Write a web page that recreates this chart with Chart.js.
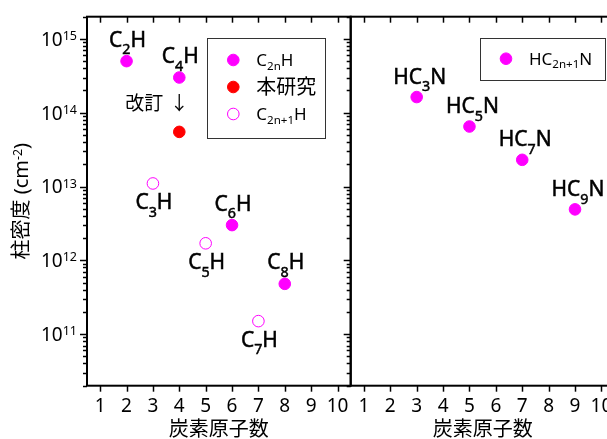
<!DOCTYPE html>
<html>
<head>
<meta charset="utf-8">
<script src="https://cdn.jsdelivr.net/npm/chart.js@4"></script>
<style>
  html, body { margin: 0; padding: 0; background: #fff; overflow: hidden; width: 607px; height: 439px; }
  body { position: relative; }
  canvas { position: absolute; top: 0; }
  #leftChart { left: 0; }
  #rightChart { left: 340px; }
</style>
</head>
<body>
<canvas id="leftChart" width="360" height="439"></canvas>
<canvas id="rightChart" width="300" height="439"></canvas>
<script>
// ---- data ----
const xTicks = [1, 2, 3, 4, 5, 6, 7, 8, 9, 10];
const yTicks = [1e11, 1e12, 1e13, 1e14, 1e15];
const yTickLabels = ['10^{11}', '10^{12}', '10^{13}', '10^{14}', '10^{15}'];

const c2nhX = [2, 4, 6, 8];
const c2nhY = [5.0e14, 3.0e14, 3.0e12, 4.8e11];
const c2nhNames = ['C_{2}H', 'C_{4}H', 'C_{6}H', 'C_{8}H'];

const thisWorkX = [4];
const thisWorkY = [5.5e13];
const thisWorkNote = ['改訂', '↓'];

const c2n1hX = [3, 5, 7];
const c2n1hY = [1.1e13, 1.7e12, 1.5e11];
const c2n1hNames = ['C_{3}H', 'C_{5}H', 'C_{7}H'];

const hcnX = [3, 5, 7, 9];
const hcnY = [1.63e14, 6.5e13, 2.3e13, 4.9e12];
const hcnNames = ['HC_{3}N', 'HC_{5}N', 'HC_{7}N', 'HC_{9}N'];

const xTitle = '炭素原子数';
const yTitle = '柱密度 (cm^{-2})';

const FONT = "'Noto Sans', 'Noto Sans CJK JP', sans-serif";
const MAGENTA = '#ff00ff';
const RED = '#ff0000';

const toPoints = (xs, ys) => xs.map((x, i) => ({ x: x, y: ys[i] }));

// split "C_{2}H" / "10^{15}" into normal, sub and sup pieces
function richParts(str) {
    const parts = [];
    const re = /([_^])\{([^}]*)\}/g;
    let last = 0, m;
    while ((m = re.exec(str))) {
        if (m.index > last) parts.push({ t: str.slice(last, m.index), mode: 0 });
        parts.push({ t: m[2], mode: m[1] === '_' ? 1 : 2 });
        last = re.lastIndex;
    }
    if (last < str.length) parts.push({ t: str.slice(last), mode: 0 });
    return parts;
}

// y is the vertical middle of the capital letters
function drawRich(ctx, str, x, y, size, o) {
    o = o || {};
    const weight = o.weight || 'normal';
    const small = size * (o.smallScale || 0.68);
    const subDy = size * (o.subDy || 0.4);
    const supDy = size * (o.supDy || 0.3);
    const parts = richParts(str);
    let w = 0;
    parts.forEach(p => {
        ctx.font = `${weight} ${p.mode ? small : size}px ${FONT}`;
        p.w = ctx.measureText(p.t).width;
        w += p.w;
    });
    let cx = o.align === 'center' ? x - w / 2 : o.align === 'right' ? x - w : x;
    const base = y + size * 0.36;
    ctx.textAlign = 'left';
    ctx.textBaseline = 'alphabetic';
    ctx.fillStyle = o.color || '#000';
    ctx.strokeStyle = o.color || '#000';
    parts.forEach(p => {
        ctx.font = `${weight} ${p.mode ? small : size}px ${FONT}`;
        const dy = p.mode === 1 ? subDy : p.mode === 2 ? -supDy : 0;
        ctx.fillText(p.t, cx, base + dy);
        if (o.heavy) {
            ctx.lineWidth = o.heavy;
            ctx.strokeText(p.t, cx, base + dy);
        }
        cx += p.w;
    });
}

function drawMarker(ctx, x, y, fill, stroke) {
    ctx.beginPath();
    ctx.arc(x, y, 5.8, 0, Math.PI * 2);
    ctx.fillStyle = fill;
    ctx.fill();
    ctx.lineWidth = 1;
    ctx.strokeStyle = stroke;
    ctx.stroke();
}

function line(ctx, x1, y1, x2, y2) {
    ctx.beginPath();
    ctx.moveTo(x1, y1);
    ctx.lineTo(x2, y2);
    ctx.stroke();
}

// frame, ticks, tick labels, titles, point labels and legend
function panelPlugin(cfg) {
    return {
        id: 'panel',
        afterDraw(chart) {
            const ctx = chart.ctx;
            const a = chart.chartArea;
            const xs = chart.scales.x, ys = chart.scales.y;
            ctx.save();

            // ticks
            ctx.strokeStyle = '#000';
            ctx.lineWidth = 1.5;
            xTicks.forEach(v => {
                const px = Math.round(xs.getPixelForValue(v)) + 0.5;
                line(ctx, px, a.bottom, px, a.bottom + 6);
                line(ctx, px, a.top, px, a.top + 6);
            });
            for (let d = 10; d <= 15; d++) {
                for (let m = 1; m <= 9; m++) {
                    const v = m * Math.pow(10, d);
                    if (v < ys.min || v > ys.max) continue;
                    const py = Math.round(ys.getPixelForValue(v)) + 0.5;
                    const len = m === 1 ? 7 : 4;
                    if (cfg.yLabels) line(ctx, a.left - len, py, a.left, py);
                    if (cfg.rightTicks) line(ctx, a.right - len, py, a.right, py);
                }
            }

            // frame
            ctx.lineWidth = 2;
            ctx.strokeRect(a.left, a.top, a.right - a.left, a.bottom - a.top);

            // x tick labels
            ctx.fillStyle = '#000';
            ctx.font = `19px ${FONT}`;
            ctx.textAlign = 'center';
            ctx.textBaseline = 'middle';
            xTicks.forEach(v => ctx.fillText(String(v), xs.getPixelForValue(v), a.bottom + 21));

            // x title
            ctx.font = `20px ${FONT}`;
            ctx.fillText(xTitle, (a.left + a.right) / 2, a.bottom + 45);

            // y tick labels and title
            if (cfg.yLabels) {
                yTicks.forEach((v, i) => drawRich(ctx, yTickLabels[i], a.left - 10, ys.getPixelForValue(v), 19,
                    { align: 'right', smallScale: 0.66, supDy: 0.3 }));
                ctx.save();
                ctx.translate(21, (a.top + a.bottom) / 2);
                ctx.rotate(-Math.PI / 2);
                drawRich(ctx, yTitle, 0, 0, 20, { align: 'center', smallScale: 0.62, supDy: 0.3 });
                ctx.restore();
            }

            // point labels
            cfg.labels.forEach(l => {
                const meta = chart.getDatasetMeta(l.dataset);
                meta.data.forEach((pt, i) => {
                    drawRich(ctx, l.names[i], pt.x + (l.dx || 0), pt.y + l.dy, 21,
                        { align: 'center', smallScale: 0.68, subDy: 0.37, heavy: 0.5 });
                });
            });
            if (cfg.note) {
                const pt = chart.getDatasetMeta(cfg.note.dataset).data[0];
                ctx.fillStyle = '#000';
                ctx.textBaseline = 'middle';
                ctx.font = `19px ${FONT}`;
                ctx.textAlign = 'right';
                ctx.fillText(cfg.note.text[0], pt.x - 16, pt.y - 27);
                ctx.textAlign = 'center';
                ctx.fillText(cfg.note.text[1], pt.x, pt.y - 27);
            }

            // legend
            const lg = cfg.legend;
            const bx = a.left + lg.x, by = a.top + lg.y;
            ctx.lineWidth = 1;
            ctx.strokeStyle = '#333';
            ctx.strokeRect(Math.round(bx) + 0.5, Math.round(by) + 0.5, lg.w, lg.h);
            lg.rows.forEach((r, i) => {
                const ds = chart.data.datasets[r.dataset];
                const ry = by + lg.firstRow + i * lg.rowGap;
                drawMarker(ctx, bx + 26, ry, ds.backgroundColor, ds.borderColor);
                drawRich(ctx, ds.label, bx + 49, ry, r.size || 17, { smallScale: 0.68, subDy: 0.2 });
            });

            ctx.restore();
        }
    };
}

function makeChart(id, datasets, padding, cfg) {
    return new Chart(document.getElementById(id), {
        type: 'scatter',
        data: { datasets: datasets },
        options: {
            responsive: false,
            animation: false,
            layout: { padding: padding },
            plugins: { legend: { display: false }, tooltip: { enabled: false } },
            scales: {
                x: { type: 'linear', min: 0.5, max: 10.5, display: false },
                y: { type: 'logarithmic', min: 2e10, max: 2e15, display: false }
            }
        },
        plugins: [panelPlugin(cfg)]
    });
}

const pointStyle = { pointRadius: 5.8, pointBorderWidth: 1, pointHoverRadius: 5.8, showLine: false };

makeChart('leftChart', [
    Object.assign({ label: 'C_{2n}H', data: toPoints(c2nhX, c2nhY), backgroundColor: MAGENTA, borderColor: MAGENTA }, pointStyle),
    Object.assign({ label: '本研究', data: toPoints(thisWorkX, thisWorkY), backgroundColor: RED, borderColor: RED }, pointStyle),
    Object.assign({ label: 'C_{2n+1}H', data: toPoints(c2n1hX, c2n1hY), backgroundColor: '#ffffff', borderColor: MAGENTA }, pointStyle)
], { left: 87, right: 9.3, top: 16.7, bottom: 53.3 }, {
    yLabels: true,
    rightTicks: true,
    labels: [
        { dataset: 0, names: c2nhNames, dy: -22, dx: 1 },
        { dataset: 2, names: c2n1hNames, dy: 18, dx: 1 }
    ],
    note: { dataset: 1, text: thisWorkNote },
    legend: { x: 120.3, y: 21, w: 118, h: 100, firstRow: 22.3, rowGap: 27,
        rows: [{ dataset: 0 }, { dataset: 1, size: 20 }, { dataset: 2 }] }
});

makeChart('rightChart', [
    Object.assign({ label: 'HC_{2n+1}N', data: toPoints(hcnX, hcnY), backgroundColor: MAGENTA, borderColor: MAGENTA }, pointStyle)
], { left: 10.7, right: 25.4, top: 16.7, bottom: 53.3 }, {
    yLabels: false,
    rightTicks: false,
    labels: [
        { dataset: 0, names: hcnNames, dy: -21, dx: 3 }
    ],
    legend: { x: 129.3, y: 21.6, w: 125, h: 42, firstRow: 20.4, rowGap: 27, rows: [{ dataset: 0 }] }
});
</script>
</body>
</html>
